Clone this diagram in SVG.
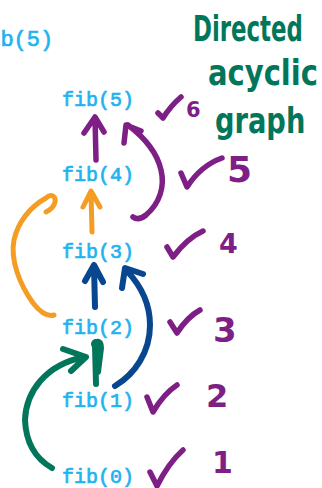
<svg xmlns="http://www.w3.org/2000/svg" width="322" height="488" viewBox="0 0 322 488">
  <style>
    .fib { font-family: "Liberation Mono", "Courier New", monospace; font-size: 20px; fill: #1fb3ef; stroke: #1fb3ef; stroke-width: 0.7; }
    .ink { fill: none; stroke-linecap: round; stroke-linejoin: round; }
    .purple { stroke: #7e1f86; stroke-width: 5.5; }
    .orange { stroke: #f49d22; stroke-width: 5; }
    .navy { stroke: #08478f; stroke-width: 6; }
    .green { stroke: #02765a; stroke-width: 6; }
    .num { font-family: "DejaVu Sans", "Liberation Sans", sans-serif; font-weight: bold; fill: #7e1f86; }
    .note { font-family: "DejaVu Sans Condensed", "DejaVu Sans", sans-serif; font-weight: bold; font-size: 36px; fill: #02765a; }
  </style>
  <rect width="322" height="488" fill="#ffffff"/>

  <!-- heading, cut off at the left edge -->
  <text class="fib" x="-26" y="46" style="font-size:22px">fib(5)</text>

  <!-- nodes -->
  <g id="fib5"><text class="fib" x="62" y="106">fib(5)</text></g>
  <g id="fib4"><text class="fib" x="62" y="181">fib(4)</text></g>
  <g id="fib3"><text class="fib" x="62" y="258">fib(3)</text></g>
  <g id="fib2"><text class="fib" x="62" y="334">fib(2)</text></g>
  <g id="fib1"><text class="fib" x="62" y="407">fib(1)</text></g>
  <g id="fib0"><text class="fib" x="62" y="483">fib(0)</text></g>

  <!-- connectors -->
  <g id="connectors" class="ink">
    <!-- fib(4) -> fib(5) -->
    <path class="purple" d="M96,160 L95,118 M84,133 L95,117 L104,132"/>
    <!-- fib(3) -> fib(5) -->
    <path class="purple" d="M133,217 C137,220 141,219 146,215 C160,203 165,186 161,170 C157,152 145,138 128,125 M124,143 L126,125 L141,131"/>
    <!-- fib(3) -> fib(4) -->
    <path class="orange" d="M92,232 L91,192 M83,207 L91,191 L100,207"/>
    <!-- fib(2) -> fib(4) -->
    <path class="orange" d="M54,315 C47,317 40,312 33,303 C20,285 10,260 14,240 C18,222 30,207 46,198 C51,193 56,196 55,202 C54,207 50,210 46,212"/>
    <!-- fib(2) -> fib(3) -->
    <path class="navy" d="M95,307 L94,266 M85,281 L94,265 L103,282"/>
    <!-- fib(1) -> fib(3) -->
    <path class="navy" d="M115,386 C135,374 150,352 150,325 C150,305 143,288 127,271 M122,288 L125,268 L143,274"/>
    <!-- fib(1) -> fib(2) -->
    <path class="green" d="M96,384 L95,346 C95,340 101,340 101,348 L98,372"/>
    <circle cx="96" cy="344" r="5" fill="#02765a"/>
    <!-- fib(0) -> fib(2) -->
    <path class="green" d="M52,468 C38,460 26,445 25,420 C26,392 45,365 84,357 M63,349 L86,357 L71,371"/>
  </g>

  <!-- ticks with evaluation order -->
  <g id="order">
    <path class="ink purple" d="M158,113 L163,118 C168,110 174,103 181,97"/>
    <text class="num" x="186" y="117" style="font-size:21px">6</text>
    <path class="ink purple" d="M181,173 L187,187 C196,173 208,163 222,158"/>
    <text class="num" x="227" y="182" style="font-size:36px">5</text>
    <path class="ink purple" d="M167,247 L173,257 C182,245 192,236 203,231"/>
    <text class="num" x="219" y="253" style="font-size:27px">4</text>
    <path class="ink purple" d="M170,322 L177,333 C184,322 191,315 200,310"/>
    <text class="num" x="213" y="342" style="font-size:34px">3</text>
    <path class="ink purple" d="M147,397 L153,412 C160,400 168,391 177,385"/>
    <text class="num" x="206" y="407" style="font-size:32px">2</text>
    <path class="ink purple" d="M150,472 L157,486 C165,470 174,458 183,450"/>
    <text class="num" x="212" y="473" style="font-size:30px">1</text>
  </g>

  <!-- side note, narrowed horizontally -->
  <g id="note">
    <text class="note" transform="translate(193,41) scale(0.7,1)" textLength="157" lengthAdjust="spacingAndGlyphs">Directed</text>
    <text class="note" transform="translate(208,85) scale(0.7,1)" textLength="157" lengthAdjust="spacingAndGlyphs">acyclic</text>
    <text class="note" transform="translate(215,133) scale(0.7,1)" textLength="129" lengthAdjust="spacingAndGlyphs">graph</text>
  </g>
</svg>
